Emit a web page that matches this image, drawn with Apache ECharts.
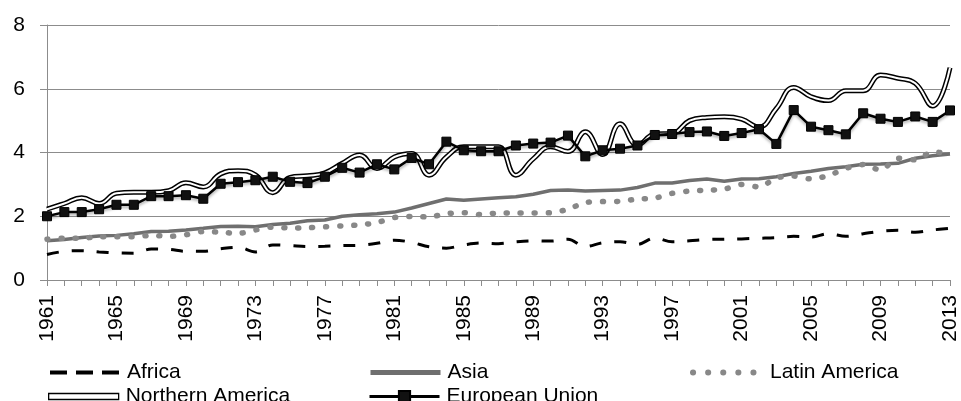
<!DOCTYPE html>
<html>
<head>
<meta charset="UTF-8">
<title>Regions</title>
<script src="https://cdn.jsdelivr.net/npm/echarts@6/dist/echarts.min.js"></script>
<style>
html,body{margin:0;padding:0;background:#fff}
#main{width:961px;height:401px}
</style>
</head>
<body>
<div id="main"></div>
<script>
// years 1961..2013
var years = [];
for (var y = 1961; y <= 2013; y++) years.push(String(y));

var africa = [0.80,0.90,0.92,0.88,0.85,0.84,0.97,0.96,0.90,0.90,
	0.98,1.03,0.88,1.10,1.08,1.05,1.06,1.08,1.09,1.15,
	1.25,1.18,1.04,1.00,1.10,1.16,1.14,1.20,1.23,1.22,
	1.28,1.05,1.17,1.20,1.12,1.32,1.20,1.23,1.27,1.28,
	1.29,1.31,1.33,1.37,1.35,1.45,1.37,1.45,1.53,1.56,
	1.50,1.57,1.62];
var asia = [1.23,1.27,1.33,1.38,1.40,1.45,1.52,1.53,1.57,1.62,
	1.68,1.69,1.67,1.74,1.78,1.86,1.88,2.00,2.05,2.08,
	2.13,2.26,2.40,2.54,2.50,2.54,2.58,2.61,2.69,2.81,
	2.82,2.79,2.81,2.82,2.90,3.04,3.04,3.12,3.17,3.10,
	3.17,3.18,3.24,3.34,3.41,3.50,3.55,3.63,3.64,3.66,
	3.82,3.90,3.95];
var latin = [1.28,1.31,1.31,1.36,1.36,1.36,1.40,1.37,1.42,1.52,
	1.50,1.46,1.57,1.66,1.63,1.64,1.67,1.70,1.73,1.80,
	1.96,1.99,1.98,2.08,2.11,2.05,2.10,2.10,2.10,2.11,
	2.22,2.43,2.46,2.47,2.54,2.57,2.72,2.79,2.82,2.85,
	3.00,2.92,3.20,3.26,3.17,3.28,3.50,3.62,3.45,3.82,
	3.77,4.02,3.95];
var northAm = [2.22,2.40,2.58,2.40,2.72,2.75,2.75,2.80,3.05,2.92,
	3.33,3.43,3.30,2.74,3.22,3.27,3.36,3.66,3.92,3.50,
	3.86,3.97,3.29,3.86,4.18,4.18,4.18,3.29,3.80,4.18,
	4.03,4.65,3.94,4.90,4.23,4.58,4.60,5.00,5.10,5.12,
	5.05,4.80,5.38,6.04,5.75,5.63,5.94,5.94,6.43,6.33,
	6.17,5.46,6.66];
var eu = [2.00,2.13,2.13,2.22,2.36,2.36,2.63,2.63,2.66,2.55,
	3.02,3.07,3.13,3.24,3.08,3.04,3.24,3.52,3.37,3.63,
	3.47,3.83,3.63,4.34,4.07,4.04,4.04,4.22,4.28,4.31,
	4.53,3.88,4.07,4.12,4.22,4.55,4.58,4.64,4.66,4.52,
	4.61,4.73,4.27,5.33,4.81,4.70,4.57,5.23,5.06,4.96,
	5.13,4.96,5.32];

var font = 'Liberation Sans';
var noSym = {color: 'rgba(0,0,0,0)', borderColor: 'rgba(0,0,0,0)', borderWidth: 0};

// one legend per entry so each can sit where the reference has it
function leg(name, left, top, extra) {
	var l = {
		left: left, top: top,
		itemWidth: 70, itemHeight: 14, itemGap: 0, padding: 0,
		textStyle: {fontFamily: font, fontSize: 21, color: '#000', padding: [0, 0, 0, 2]},
		data: [name]
	};
	for (var k in extra) l[k] = extra[k];
	return l;
}

var chart = echarts.init(document.getElementById('main'));
chart.setOption({
	animation: false,
	grid: {left: 47, right: 11, top: 25, bottom: 121},
	legend: [
		leg('Africa', 48, 362, {itemStyle: noSym, lineStyle: {width: 4, type: [17, 9]}}),
		leg('Asia', 368, 362, {itemStyle: noSym, lineStyle: {width: 5}}),
		leg('Latin America', 690, 362, {itemStyle: noSym, lineStyle: {width: 6, type: [0.1, 15], cap: 'round'}}),
		leg('Northern America', 48, 386, {
			itemHeight: 6,
			data: [{name: 'Northern America', icon: 'rect',
				itemStyle: {color: '#fff', borderColor: '#000', borderWidth: 1.3}}]
		}),
		leg('European Union', 368, 386, {lineStyle: {width: 3}})
	],
	xAxis: {
		type: 'category',
		data: years,
		boundaryGap: false,
		axisLine: {lineStyle: {color: '#8c8c8c', width: 1}},
		axisTick: {show: true, interval: 0, length: 6, lineStyle: {color: '#8c8c8c'}},
		axisLabel: {interval: 3, rotate: 90, margin: 15, fontFamily: font, fontSize: 21, color: '#000'}
	},
	yAxis: {
		type: 'value',
		min: 0, max: 8, interval: 2,
		axisLine: {show: true, lineStyle: {color: '#8c8c8c'}},
		axisTick: {show: true, length: 7, lineStyle: {color: '#8c8c8c'}},
		splitLine: {lineStyle: {color: '#8c8c8c', width: 1}},
		axisLabel: {margin: 22, fontFamily: font, fontSize: 21, color: '#000'}
	},
	series: [
		{
			name: 'Africa', type: 'line', data: africa, smooth: 0.35,
			showSymbol: false, symbol: 'none',
			lineStyle: {color: '#000', width: 3, type: [12, 13]},
			itemStyle: {color: '#000'}
		},
		{
			name: 'Asia', type: 'line', data: asia,
			showSymbol: false, symbol: 'none',
			lineStyle: {color: '#6f6f6f', width: 3.5},
			itemStyle: {color: '#6f6f6f'}
		},
		{
			name: 'Latin America', type: 'line', data: latin, smooth: 0.3,
			showSymbol: false, symbol: 'none',
			lineStyle: {color: '#888', width: 5.5, type: [1, 13], cap: 'round'},
			itemStyle: {color: '#888'}
		},
		// double line: black underneath, white on top
		{
			name: 'Northern America', type: 'line', data: northAm, smooth: 0.45,
			showSymbol: false, symbol: 'none',
			lineStyle: {color: '#000', width: 5},
			itemStyle: {color: '#000'}
		},
		{
			name: 'Northern America', type: 'line', data: northAm, smooth: 0.45,
			showSymbol: false, symbol: 'none',
			lineStyle: {color: '#fff', width: 2},
			itemStyle: {color: '#fff'}
		},
		{
			name: 'European Union', type: 'line', data: eu,
			symbol: 'rect', symbolSize: 9, showSymbol: true,
			lineStyle: {color: '#000', width: 2.5, shadowColor: 'rgba(0,0,0,0.35)', shadowBlur: 3, shadowOffsetY: 2},
			itemStyle: {color: '#111', borderColor: '#000', borderWidth: 1}
		}
	]
});
</script>
</body>
</html>
